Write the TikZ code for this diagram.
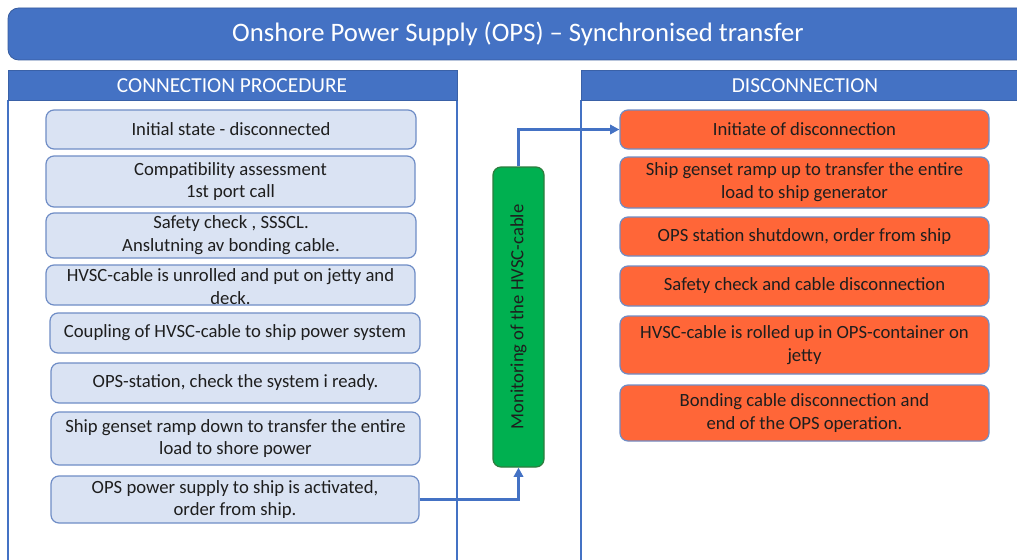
\documentclass[tikz,border=0pt]{standalone}
\usepackage{fontspec}
\setmainfont{Carlito}
\usetikzlibrary{fit,arrows.meta}
\definecolor{ttlblue}{HTML}{4472C4}
\definecolor{boxfill}{HTML}{DAE3F3}
\definecolor{boxline}{HTML}{6F8DC6}
\definecolor{orfill}{HTML}{FF6638}
\definecolor{grfill}{HTML}{00B050}
\definecolor{grline}{HTML}{2E7D3E}
\definecolor{txt}{HTML}{1E1E1E}
\tikzset{
  lbox/.style={draw=boxline, fill=boxfill, line width=0.9pt, rounded corners=6pt, inner sep=0pt},
  obox/.style={lbox, fill=orfill},
  gbox/.style={draw=grline, fill=grfill, line width=0.9pt, rounded corners=6pt, inner sep=0pt},
  btxt/.style={text=txt, align=center, font=\fontsize{14}{17.2}\selectfont},
  hdr/.style={draw=ttlblue!85!black, fill=ttlblue, line width=0.6pt, inner sep=0pt},
  hdrtxt/.style={text=white, font=\fontsize{16}{18}\selectfont},
  ttl/.style={draw=ttlblue!80!black, fill=ttlblue, line width=0.6pt, rounded corners=8pt, inner sep=0pt},
  frame/.style={draw=ttlblue, line width=0.8pt},
  flow/.style={draw=ttlblue, line width=2.2pt, -{Triangle[length=7pt,width=7pt]}}
}
\begin{document}
\begin{tikzpicture}[x=0.75pt,y=-0.75pt]
\useasboundingbox (0,0) rectangle (1017,560);
\clip (0,0) rectangle (1017,560);
\fill[white] (0,0) rectangle (1017,560);
% title
\node[ttl, fit={(8,8)(1040,60)}] (title) {};
\node[text=white, font=\fontsize{20}{22}\selectfont] (titletext) at (518,34) {Onshore Power Supply (OPS) – Synchronised transfer};
% panels
\draw[frame] (8,100) -- (8,565);
\draw[frame] (457,100) -- (457,565);
\draw[frame] (581,100) -- (581,565);
\node[hdr, fit={(8,70)(457,100)}] (lhdr) {};
\node[hdrtxt] (lhdrtext) at (232,86) {CONNECTION PROCEDURE};
\node[hdr, fit={(581,70)(1040,100)}] (rhdr) {};
\node[hdrtxt] (rhdrtext) at (805,86) {DISCONNECTION};
% left boxes
\node[lbox, fit={(46,110)(416,149)}] (c1) {};
\node[btxt] at (c1) {Initial state - disconnected};
\node[lbox, fit={(46,156)(415,207)}] (c2) {};
\node[btxt] at (c2) {Compatibility assessment\\1st port call};
\node[lbox, fit={(46,213)(416,258)}] (c3) {};
\node[btxt] at (c3) {Safety check , SSSCL.\\Anslutning av bonding cable.};
\node[lbox, fit={(46,265)(415,305)}] (c4) {};
\node[btxt] at ([yshift=-1pt]c4) {HVSC-cable is unrolled and put on jetty and\\deck.};
\node[lbox, fit={(50,313)(420,353)}] (c5) {};
\node[btxt] at (c5) {Coupling of HVSC-cable to ship power system};
\node[lbox, fit={(51,363)(420,403)}] (c6) {};
\node[btxt] at (c6) {OPS-station, check the system i ready.};
\node[lbox, fit={(51,412)(420,465)}] (c7) {};
\node[btxt] at (c7) {Ship genset ramp down to transfer the entire\\load to shore power};
\node[lbox, fit={(51,476)(419,523)}] (c8) {};
\node[btxt] at (c8) {OPS power supply to ship is activated,\\order from ship.};
% green monitoring box
\node[gbox, fit={(493,167)(544,467)}] (mon) {};
\node[text=txt, rotate=90, font=\fontsize{14}{16}\selectfont] at (mon) {Monitoring of the HVSC-cable};
% right boxes
\node[obox, fit={(620,110)(989,149)}] (d1) {};
\node[btxt] at (d1) {Initiate of disconnection};
\node[obox, fit={(620,157)(989,208)}] (d2) {};
\node[btxt] at (d2) {Ship genset ramp up to transfer the entire\\load to ship generator};
\node[obox, fit={(620,217)(989,256)}] (d3) {};
\node[btxt] at (d3) {OPS station shutdown, order from ship};
\node[obox, fit={(620,266)(989,306)}] (d4) {};
\node[btxt] at (d4) {Safety check and cable disconnection};
\node[obox, fit={(620,316)(989,374)}] (d5) {};
\node[btxt] at (d5) {HVSC-cable is rolled up in OPS-container on\\jetty};
\node[obox, fit={(620,385)(989,441)}] (d6) {};
\node[btxt] at (d6) {Bonding cable disconnection and\\end of the OPS operation.};
% connectors
\draw[flow] (c8.east) -| (mon.south);
\draw[flow] (mon.north) |- (d1.west);
\end{tikzpicture}
\end{document}
